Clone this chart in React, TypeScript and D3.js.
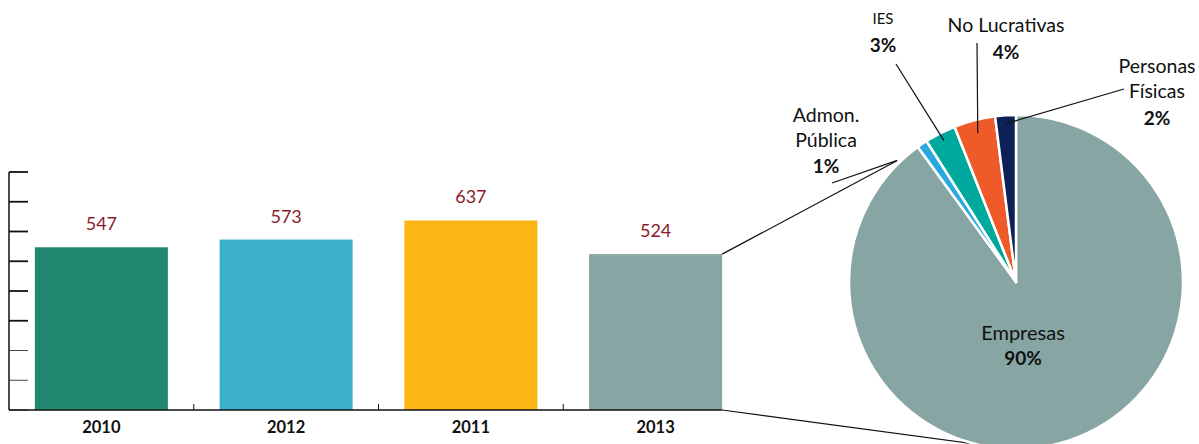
import React from "react";
import * as d3 from "d3";

const years = ["2010", "2012", "2011", "2013"];
const totals = [547, 573, 637, 524];
const barColors = ["#228872", "#3BB1C9", "#FBB616", "#86A5A3"];
const yTicks = [0, 100, 200, 300, 400, 500, 600, 700, 800];

const sectors = ["Empresas", "Admon. Pública", "IES", "No Lucrativas", "Personas Físicas"];
const shares = [90, 1, 3, 4, 2];
const sliceColors = ["#86A5A3", "#2AA9E0", "#00A99D", "#EE5A28", "#0D2157"];

const W = 1199, H = 444;
const FONT = "Lato, 'Open Sans', sans-serif";

export default function App() {
  const x = d3.scaleBand<string>().domain(years).range([9, 748]).paddingInner(0.28).paddingOuter(0.14);
  const y = d3.scaleLinear().domain([0, 800]).range([410, 172]);
  const axisX = 9;

  const cx = 1016, cy = 282, R = 167;
  const pie = d3.pie<number>().sort(null).value((d) => d);
  const arcs = pie(shares);
  const arc = d3.arc<d3.PieArcDatum<number>>().innerRadius(0).outerRadius(R);
  const pt = (a: number, r: number) => [cx + r * Math.sin(a), cy - r * Math.cos(a)];
  const mid = (i: number) => (arcs[i].startAngle + arcs[i].endAngle) / 2;

  const lastBar = years.length - 1;
  const bx = (x(years[lastBar]) as number) + x.bandwidth();
  const connTop = pt((315.5 * Math.PI) / 180, R + 3);
  const connBot = pt((194 * Math.PI) / 180, R);

  // label layout (annotation positions)
  const labels = [
    { i: 1, lines: ["Admon.", "Pública"], size: 19.5, x: 826, y: 122, pct: 173, lead: [[832, 183], pt((315.7 * Math.PI) / 180, R + 3)] },
    { i: 2, lines: ["IES"], size: 15, x: 883, y: 24, pct: 52, lead: [[896, 64], pt(mid(2), R * 0.95)] },
    { i: 3, lines: ["No Lucrativas"], size: 19.5, x: 1006, y: 32, pct: 59, lead: [[977, 43], pt(mid(3), R * 0.92)] },
    { i: 4, lines: ["Personas", "Físicas"], size: 19.5, x: 1157, y: 73, pct: 125, lead: [[1124, 89], pt(mid(4), R * 0.95)] },
  ];

  return (
    <svg width={W} height={H} style={{ position: "absolute", left: 0, top: 0 }} fontFamily={FONT}>
      {/* y axis */}
      <line x1={axisX} x2={axisX} y1={y(800)} y2={y(0)} stroke="#111" strokeWidth={1.5} />
      {yTicks.map((t) => (
        <line key={t} x1={axisX} x2={axisX + 19} y1={y(t)} y2={y(t)} stroke={t < 300 ? "#444" : "#111"} strokeWidth={t < 300 ? 1 : 1.8} />
      ))}
      {/* bars */}
      {years.map((yr, i) => (
        <g key={yr}>
          <rect x={x(yr)} y={y(totals[i])} width={x.bandwidth()} height={y(0) - y(totals[i])} fill={barColors[i]} />
          <text x={(x(yr) as number) + x.bandwidth() / 2} y={y(totals[i]) - 17} textAnchor="middle" fontSize={18} fill="#8B1A2B">
            {totals[i]}
          </text>
          <text x={(x(yr) as number) + x.bandwidth() / 2} y={433} textAnchor="middle" fontSize={16.5} fontWeight="bold" fill="#111">
            {yr}
          </text>
        </g>
      ))}
      {/* x axis */}
      <line x1={axisX} x2={bx} y1={y(0)} y2={y(0)} stroke="#111" strokeWidth={1.5} />
      {years.slice(1).map((yr) => (
        <line key={yr} x1={(x(yr) as number) - (x.step() - x.bandwidth()) / 2} x2={(x(yr) as number) - (x.step() - x.bandwidth()) / 2} y1={y(0)} y2={y(0) - 6} stroke="#111" strokeWidth={1} />
      ))}
      {/* connectors */}
      <line x1={bx} y1={y(totals[lastBar])} x2={connTop[0]} y2={connTop[1]} stroke="#111" strokeWidth={1.2} />
      <line x1={bx} y1={y(0)} x2={connBot[0]} y2={connBot[1]} stroke="#111" strokeWidth={1.2} />
      {/* pie */}
      <g transform={`translate(${cx},${cy})`}>
        {arcs.map((a, i) => (
          <path key={i} d={arc(a) as string} fill={sliceColors[i]} stroke="#fff" strokeWidth={2.5} strokeLinejoin="round" />
        ))}
      </g>
      <text x={1023} y={340} textAnchor="middle" fontSize={20} fill="#111">{sectors[0]}</text>
      <text x={1023} y={365} textAnchor="middle" fontSize={19} fontWeight="bold" fill="#111">{shares[0]}%</text>
      {labels.map((l) => (
        <g key={l.i}>
          {l.lines.map((s, k) => (
            <text key={k} x={l.x} y={l.y + k * 25} textAnchor="middle" fontSize={l.size} fill="#111">{s}</text>
          ))}
          <text x={l.x} y={l.pct} textAnchor="middle" fontSize={19} fontWeight="bold" fill="#111">{shares[l.i]}%</text>
          <line x1={l.lead[0][0]} y1={l.lead[0][1]} x2={l.lead[1][0]} y2={l.lead[1][1]} stroke="#111" strokeWidth={1.2} />
        </g>
      ))}
    </svg>
  );
}
